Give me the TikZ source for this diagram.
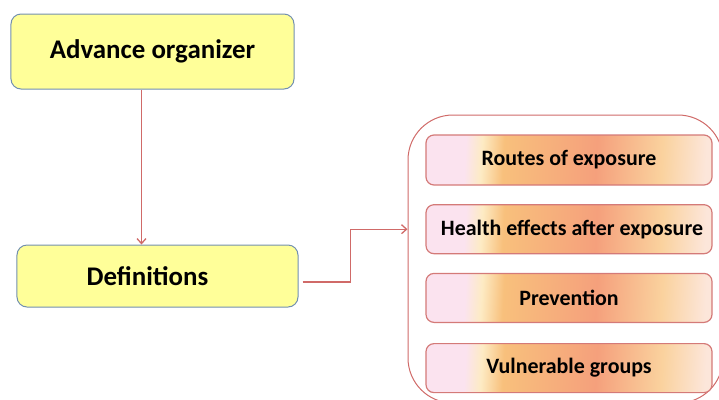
\documentclass[tikz,border=0pt]{standalone}
\usepackage{fontspec}
\setmainfont{Carlito}
\usetikzlibrary{arrows.meta,positioning}

\definecolor{boxyellow}{HTML}{FFFF99}
\definecolor{boxedge}{HTML}{7390B0}
\definecolor{linkred}{HTML}{D06A68}
\definecolor{topicedge}{HTML}{D47A78}
\definecolor{topicpink}{HTML}{FBE3EF}
\definecolor{topiccream}{HTML}{FDEBC4}
\definecolor{topicgold}{HTML}{F8C07C}
\definecolor{topicsalmon}{HTML}{F5A07C}
\definecolor{topicpeach}{HTML}{FAD29E}
\definecolor{topiclight}{HTML}{FCE6DA}

% stripes of the topic boxes, left to right
\pgfdeclarehorizontalshading{topicfill}{100bp}{%
  color(0bp)=(topicpink); color(31bp)=(topicpink);
  color(34bp)=(topiccream); color(38bp)=(topicgold);
  color(55bp)=(topicsalmon); color(67bp)=(topicpeach);
  color(75bp)=(topiclight); color(100bp)=(topiclight)}

\begin{document}
\begin{tikzpicture}[x=1bp,y=-1bp,node distance=18.5bp,
                    >={Straight Barb[length=5bp,width=9bp]}]
  \tikzset{mainbox/.style={draw=boxedge,line width=1bp,fill=boxyellow,
             rounded corners=10bp,font=\bfseries},
           topic/.style={draw=topicedge,line width=1.2bp,shading=topicfill,
             shading angle=-3,rounded corners=8bp,minimum width=286bp,
             minimum height=49bp,font=\fontsize{22}{24}\selectfont\bfseries},
           link/.style={->,draw=linkred,line width=1.3bp}}

  \clip (0,0) rectangle (719,399);

  \node[mainbox,minimum width=283bp,minimum height=75bp,
        font=\fontsize{27}{30}\selectfont\bfseries] (org) at (152.5,51.5)
        {Advance organizer};
  \node[mainbox,minimum width=281bp,minimum height=62bp,
        font=\fontsize{27}{30}\selectfont\bfseries] (defs) at (157.5,276)
        {Definitions\hspace*{20bp}};

  % frame round the topics, running off the page
  \node[draw=linkred,line width=1bp,rounded corners=45bp,
        minimum width=315bp,minimum height=288bp] (topics) at (565.5,259) {};

  \node[topic,minimum height=50bp] (routes) at (569,160) {Routes of exposure};
  \node[topic] (health) [below=of routes]     {\hspace*{6bp}Health effects after exposure};
  \node[topic] (prev)   [below=of health]     {Prevention};
  \node[topic] (vuln)   [below=20bp of prev]  {Vulnerable groups};

  \draw[link] ([xshift=-11bp]org.south) -- ([xshift=-11bp]org.south |- defs.north);
  \draw[link] ([xshift=4bp,yshift=-6bp]defs.east) -- ++(48,0)
              |- (health -| topics.west);
\end{tikzpicture}
\end{document}
